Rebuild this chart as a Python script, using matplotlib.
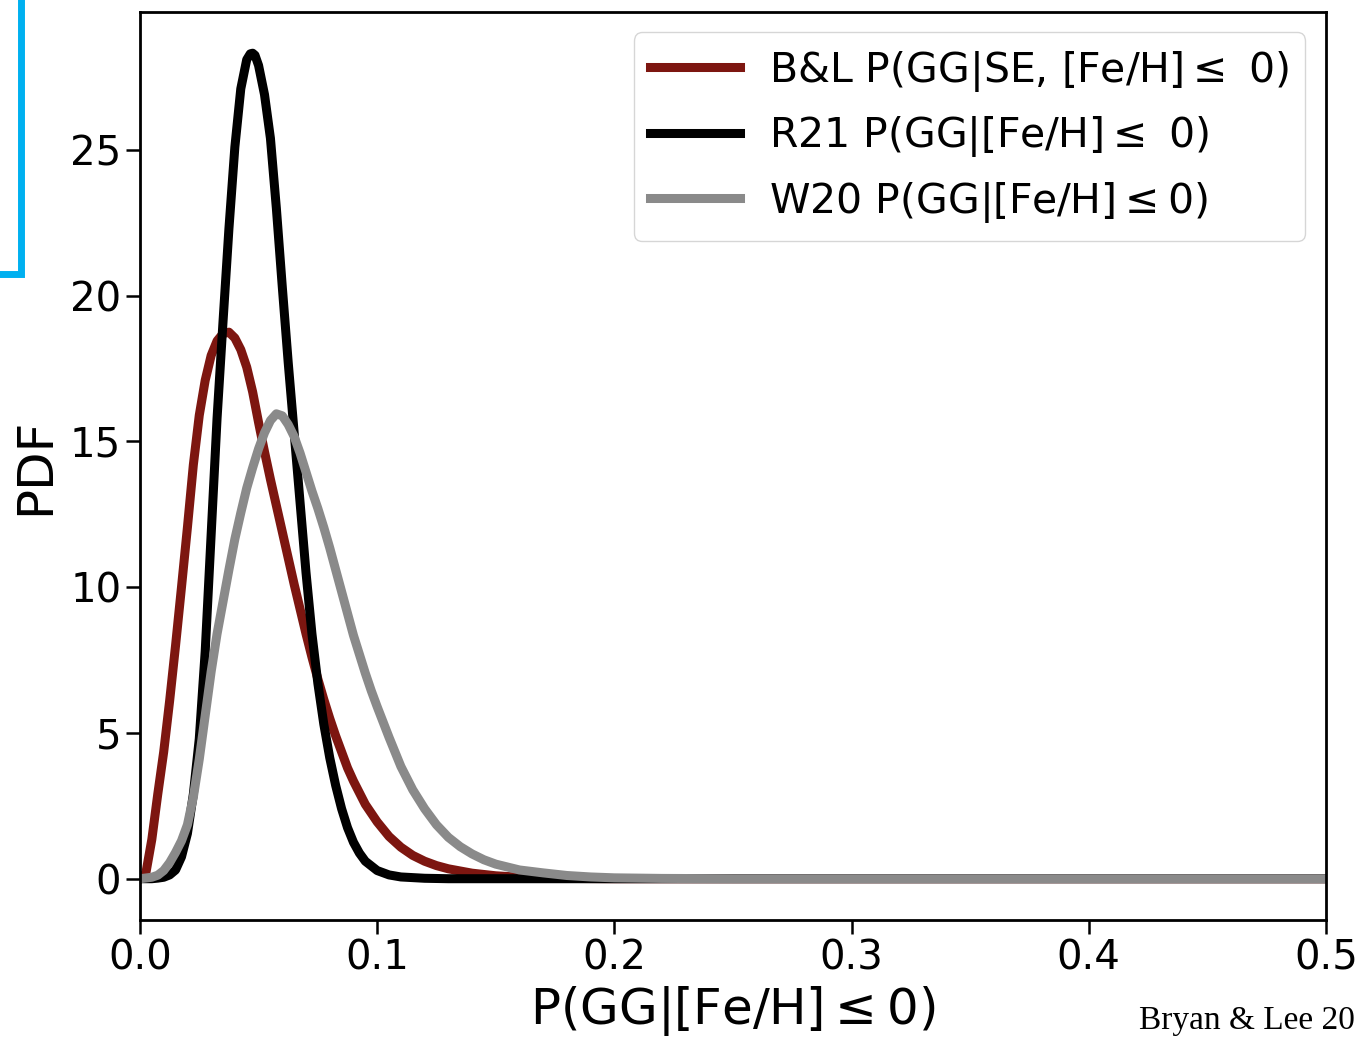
import matplotlib
matplotlib.use("Agg")
import matplotlib.pyplot as plt
from matplotlib.lines import Line2D

# PDF curves (x = P(GG|[Fe/H]<=0), y = PDF)
bl_x = [0, .0025, .005, .0075, .01, .0125, .015, .0175, .02, .0225,
        .025, .0275, .03, .0325, .035, .0375, .04, .0425, .045, .0475,
        .05, .0525, .055, .0575, .06, .0625, .065, .0675, .07, .0725,
        .075, .0775, .08, .0825, .085, .0875, .09, .095, .1, .105,
        .11, .115, .12, .125, .13, .14, .15, .16, .17, .18,
        .2, .3, .4, .5]
bl_y = [0, 0.2, 1.35, 2.9, 4.35, 6.1, 8.0, 10.0, 12.05, 14.2,
        15.9, 17.1, 17.95, 18.45, 18.7, 18.75, 18.55, 18.15, 17.55, 16.7,
        15.65, 14.65, 13.7, 12.8, 11.9, 11.0, 10.1, 9.25, 8.4, 7.6,
        6.85, 6.15, 5.5, 4.9, 4.35, 3.8, 3.35, 2.55, 1.95, 1.45,
        1.08, 0.8, 0.6, 0.45, 0.34, 0.19, 0.1, 0.05, 0.025, 0.01,
        0, 0, 0, 0]

r21_x = [0, .005, .0075, .01, .0125, .015, .0175, .02, .0225, .025,
         .0275, .03, .0325, .035, .0375, .04, .0425, .045, .0465, .0475,
         .0485, .05, .0525, .055, .0575, .06, .0625, .065, .0675, .07,
         .0725, .075, .0775, .08, .0825, .085, .0875, .09, .0925, .095,
         .1, .105, .11, .12, .13, .2, .3, .4, .5]
r21_y = [0, 0, 0.02, 0.05, 0.13, 0.3, 0.75, 1.55, 2.9, 4.8,
         7.8, 11.8, 15.8, 19.1, 22.3, 25.1, 27.1, 28.1, 28.3, 28.32,
         28.25, 27.9, 26.9, 25.4, 23.0, 20.3, 17.7, 15.3, 12.9, 10.5,
         8.4, 6.7, 5.3, 4.15, 3.2, 2.4, 1.75, 1.25, 0.88, 0.6,
         0.28, 0.13, 0.06, 0.015, 0, 0, 0, 0, 0]

w20_x = [0, .005, .0075, .01, .0125, .015, .0175, .02, .0225, .025,
         .0275, .03, .0325, .035, .0375, .04, .0425, .045, .0475, .05,
         .0525, .055, .0575, .06, .0625, .065, .0675, .07, .0725, .075,
         .0775, .08, .0825, .085, .0875, .09, .0925, .095, .0975, .1,
         .105, .11, .115, .12, .125, .13, .135, .14, .145, .15,
         .16, .17, .18, .19, .2, .22, .25, .3, .4, .5]
w20_y = [0, 0.05, 0.12, 0.28, 0.55, 0.9, 1.3, 1.85, 2.8, 4.1,
         5.6, 7.1, 8.4, 9.5, 10.6, 11.65, 12.55, 13.4, 14.1, 14.75,
         15.3, 15.72, 15.95, 15.88, 15.58, 15.17, 14.6, 13.95, 13.3, 12.7,
         12.05, 11.35, 10.6, 9.85, 9.1, 8.35, 7.7, 7.05, 6.45, 5.9,
         4.85, 3.85, 3.05, 2.4, 1.85, 1.42, 1.1, 0.85, 0.65, 0.5,
         0.3, 0.2, 0.11, 0.06, 0.03, 0.01, 0, 0, 0, 0]

labels = ["B&L P(GG|SE, [Fe/H]$\\leq$ 0)",
          "R21 P(GG|[Fe/H]$\\leq$ 0)",
          "W20 P(GG|[Fe/H]$\\leq$0)"]
colors = ["#7d1610", "black", "#8a8a8a"]

fig = plt.figure(figsize=(13.59, 10.40), dpi=100)
ax = fig.add_axes([0.103, 0.1154, 0.8727, 0.8731])

for xs, ys, lab, c in zip([bl_x, r21_x, w20_x], [bl_y, r21_y, w20_y], labels, colors):
    ax.plot(xs, ys, color=c, lw=6.5, label=lab)

ax.set_xlim(0, 0.5)
ax.set_xticks([0.0, 0.1, 0.2, 0.3, 0.4, 0.5])
ax.set_yticks([0, 5, 10, 15, 20, 25])
ax.tick_params(labelsize=29, length=10, width=1.8)
for sp in ax.spines.values():
    sp.set_linewidth(2)

ax.set_xlabel("P(GG|[Fe/H]$\\leq$0)", fontsize=36, labelpad=4)
ax.set_ylabel("PDF", fontsize=36, labelpad=8)

ax.legend(loc="upper right", fontsize=29.5, handlelength=2.2, handletextpad=0.7)

# blue bracket at top left
fig.add_artist(Line2D([0.0158, 0.0158, 0.0], [1.0, 0.737, 0.737],
                      transform=fig.transFigure, color="#00b0f0", lw=5,
                      solid_joinstyle="miter"))

# credit line, kept inside the canvas
fig.text(0.997, 1 - 1029 / 1040, "Bryan & Lee 20", family="Liberation Serif",
         fontsize=24, va="baseline", ha="right")

fig.savefig("out.png", dpi=100)
